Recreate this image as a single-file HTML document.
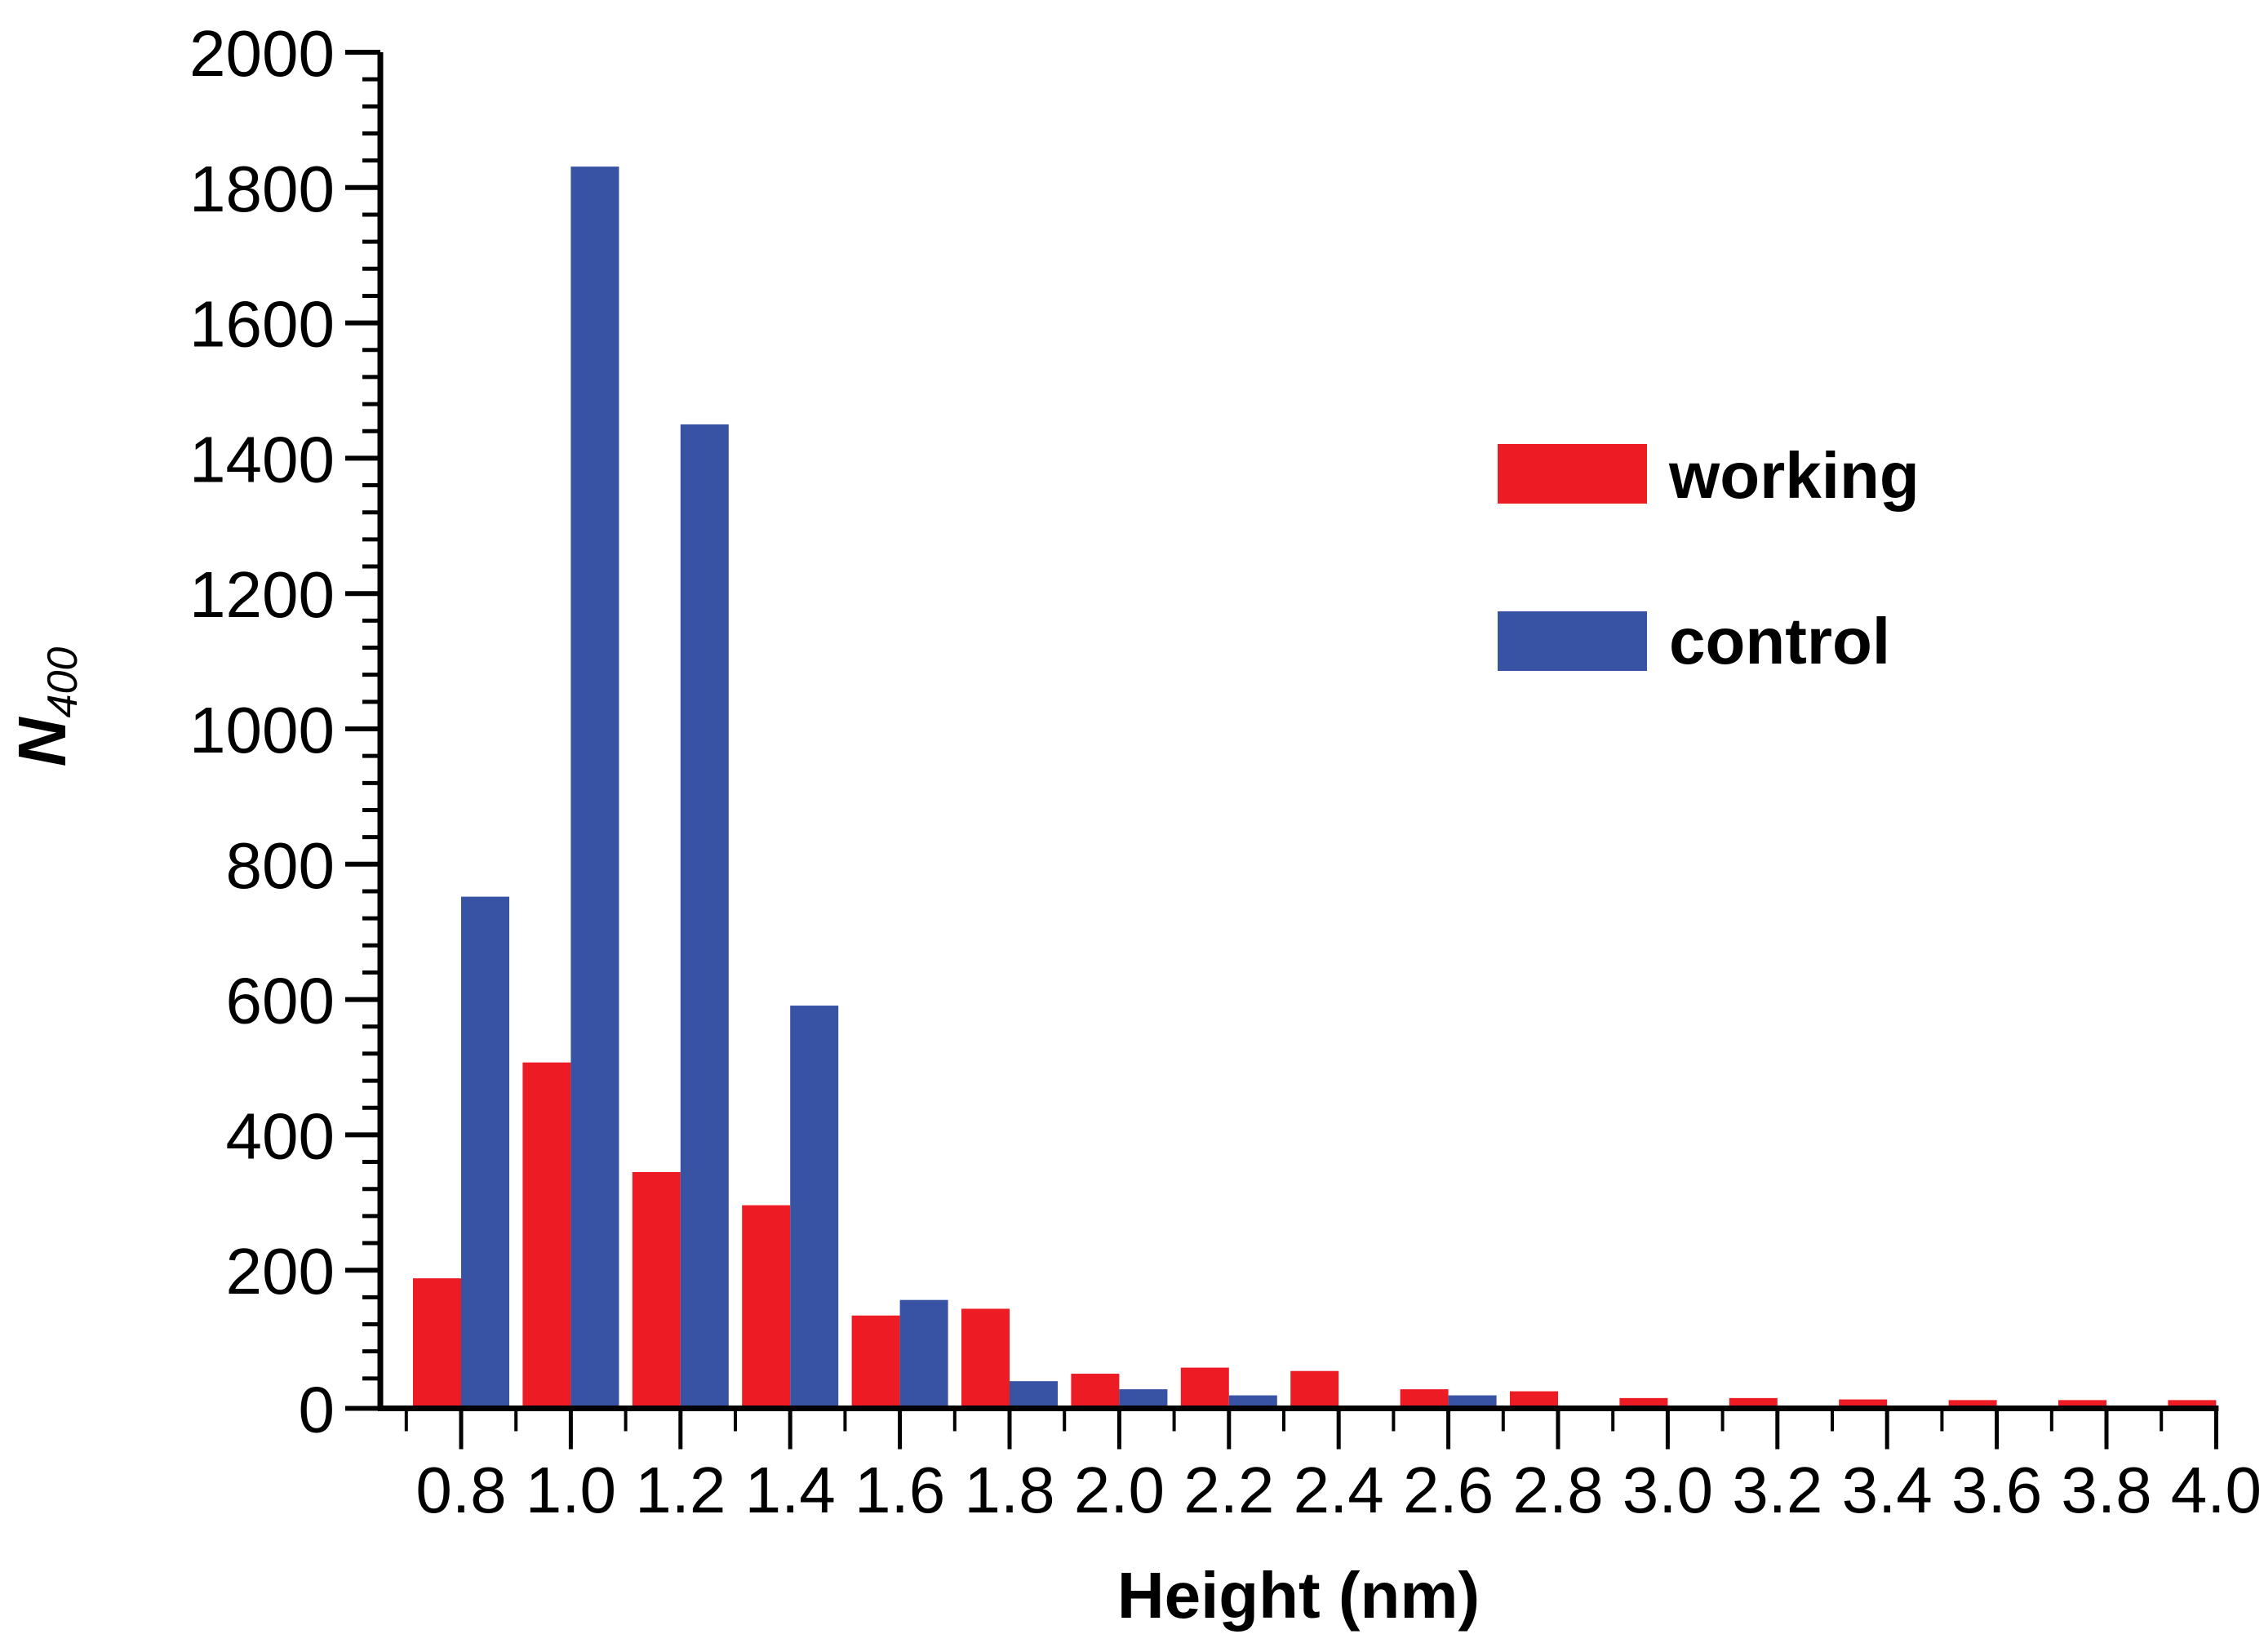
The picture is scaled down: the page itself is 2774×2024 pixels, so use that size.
<!DOCTYPE html>
<html><head><meta charset="utf-8"><style>
html,body{margin:0;padding:0;background:#fff;}
svg{display:block;font-family:"Liberation Sans",Arial,sans-serif;}
</style></head><body>
<svg id="chart" width="2774" height="2024" viewBox="0 0 2774 2024" xmlns="http://www.w3.org/2000/svg">
<g id="bars"></g>
<g id="axes"></g>
<g>
<rect x="1835" y="544" width="183" height="73" fill="#ed1c24"/>
<text x="2045" y="610" font-size="80" font-weight="bold">working</text>
<rect x="1835" y="749" width="183" height="73" fill="#3953a4"/>
<text x="2045" y="813" font-size="80" font-weight="bold">control</text>
</g>
<text x="1591" y="1982" font-size="80" font-weight="bold" text-anchor="middle">Height (nm)</text>
<text transform="translate(80,866) rotate(-90)" text-anchor="middle" font-style="italic"><tspan font-size="83" font-weight="bold">N</tspan><tspan font-size="52" dy="14">400</tspan></text>
</svg>
<script>
const categories = [0.8,1.0,1.2,1.4,1.6,1.8,2.0,2.2,2.4,2.6,2.8,3.0,3.2,3.4,3.6,3.8,4.0];
const workingValues = [188,507,345,296,133,143,47,56,51,24,21,11,11,9,8,8,8];
const controlValues = [752,1831,1450,591,156,36,24,15,0,15,0,0,0,0,0,0,0];
const yTickLabels = ["0","200","400","600","800","1000","1200","1400","1600","1800","2000"];
const xTickLabels = ["0.8","1.0","1.2","1.4","1.6","1.8","2.0","2.2","2.4","2.6","2.8","3.0","3.2","3.4","3.6","3.8","4.0"];

const NS = "http://www.w3.org/2000/svg";
const X0 = 466, Y0 = 1722, YTOP = 64;
function xScale(v){ return 565 + (v - 0.8) / 0.2 * 134.4; }
function yScale(v){ return Y0 - v / 2000 * (Y0 - YTOP); }
const BW = 59;
function mk(tag, attrs, parent){ const e = document.createElementNS(NS, tag); for (const k in attrs) e.setAttribute(k, attrs[k]); parent.appendChild(e); return e; }

const bars = document.getElementById('bars');
categories.forEach((c, i) => {
  const xc = xScale(c);
  const w = workingValues[i];
  if (w > 0) {
    const r = mk('rect', {x: xc - BW, y: yScale(w), width: BW, height: Y0 - yScale(w), fill: '#ed1c24'}, bars);
    
    
  }
  const b = controlValues[i];
  if (b > 0) {
    const r = mk('rect', {x: xc, y: yScale(b), width: BW, height: Y0 - yScale(b), fill: '#3953a4'}, bars);
    
    
  }
});

const axes = document.getElementById('axes');
const AY = Y0 + 3.5;
const ya = mk('line', {x1: X0, y1: YTOP, x2: X0, y2: AY + 3, stroke: '#000', 'stroke-width': 7}, axes);


const xa = mk('line', {x1: X0 - 3, y1: AY, x2: xScale(4.0) + 3, y2: AY, stroke: '#000', 'stroke-width': 7}, axes);



yTickLabels.forEach((lab, i) => {
  const v = +lab;
  const y = v === 0 ? AY : yScale(v);
  const t = mk('line', {x1: X0 - 43, y1: y, x2: X0, y2: y, stroke: '#000', 'stroke-width': 6}, axes);
  
  
  const tx = mk('text', {x: 410, y: y + 29, 'font-size': 80, 'text-anchor': 'end'}, axes);
  tx.textContent = lab;
  
  
  if (i < yTickLabels.length - 1) {
    for (let k = 1; k < 5; k++) {
      const ym = yScale(v + k * 40);
      const m = mk('line', {x1: X0 - 22, y1: ym, x2: X0, y2: ym, stroke: '#000', 'stroke-width': 5}, axes);
      
      
    }
  }
});

xTickLabels.forEach((lab, i) => {
  const v = +lab;
  const x = xScale(v);
  const t = mk('line', {x1: x, y1: AY, x2: x, y2: AY + 50, stroke: '#000', 'stroke-width': 5}, axes);
  
  
  const mx = xScale(v - 0.1);
  const m = mk('line', {x1: mx, y1: AY, x2: mx, y2: AY + 28, stroke: '#000', 'stroke-width': 4}, axes);
  
  
  const tx = mk('text', {x: x, y: 1853, 'font-size': 80, 'text-anchor': 'middle'}, axes);
  tx.textContent = lab;
  
  
});
</script>
</body></html>
